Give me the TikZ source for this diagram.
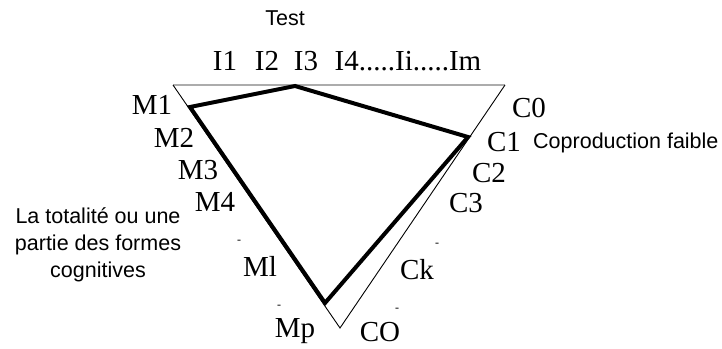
\documentclass[tikz,border=0pt]{standalone}
\usepackage{fontspec}
\setmainfont{Liberation Serif}
\setsansfont{Liberation Sans}
\usetikzlibrary{positioning}

\tikzset{
  lab/.style={font=\fontsize{29}{29}\selectfont, inner sep=0pt, anchor=base},
  note/.style={font=\sffamily\fontsize{21.5}{27}\selectfont, inner sep=0pt},
  tickmark/.style={font=\fontsize{12}{12}\selectfont, inner sep=0pt},
}

\begin{document}
\begin{tikzpicture}[x=1pt, y=-1pt]
  \useasboundingbox (0,0) rectangle (722,348);

  % corners of the big triangle
  \coordinate (tl) at (173,85);
  \coordinate (tr) at (505,85);
  \coordinate (bt) at (340,328);

  % points of the thick profile
  \coordinate (pm) at (190,107);
  \coordinate (pi) at (295,86);
  \coordinate (pc) at (468,137);
  \coordinate (pb) at (325,303);

  \draw[gray!65, line width=2.5pt] (tl) -- (tr);
  \draw[black, line width=0.9pt] (tl) -- (bt) -- (tr);
  \draw[black, line width=4pt, line join=miter] (pm) -- (pi) -- (pc) -- (pb) -- cycle;

  % top
  \node[note] (test) at (285,18) {Test};
  \node[lab] (i1) at (225,70) {I1};
  \node[lab] (i2) at (267,70) {I2};
  \node[lab] (i3) at (306,70) {I3};
  \node[lab] (im) at (408,70) {I4.....Ii.....Im};

  % left side
  \node[lab] (m1) at (152,114) {M1};
  \node[lab] (m2) at (174,147) {M2};
  \node[lab] (m3) at (198,179) {M3};
  \node[lab] (m4) at (215,211) {M4};
  \node[tickmark] (dm1) at (239,242) {-};
  \node[lab] (ml) at (260,276) {Ml};
  \node[tickmark] (dm2) at (279,307) {-};
  \node[lab] (mp) at (295,337) {Mp};

  \node[note, align=center] (forms) at (98,245) {La totalité ou une\\partie des formes\\cognitives};

  % right side
  \node[lab] (c0) at (529,117) {C0};
  \node[lab] (c1) at (504,151) {C1};
  \node[note, anchor=west] (faible) at (533,143) {Coproduction faible};
  \node[lab] (c2) at (489,182) {C2};
  \node[lab] (c3) at (466,212) {C3};
  \node[tickmark] (dc1) at (437,245) {-};
  \node[lab] (ck) at (417,279) {Ck};
  \node[tickmark] (dc2) at (397,310) {-};
  \node[lab] (co) at (380,341) {CO};
\end{tikzpicture}
\end{document}
